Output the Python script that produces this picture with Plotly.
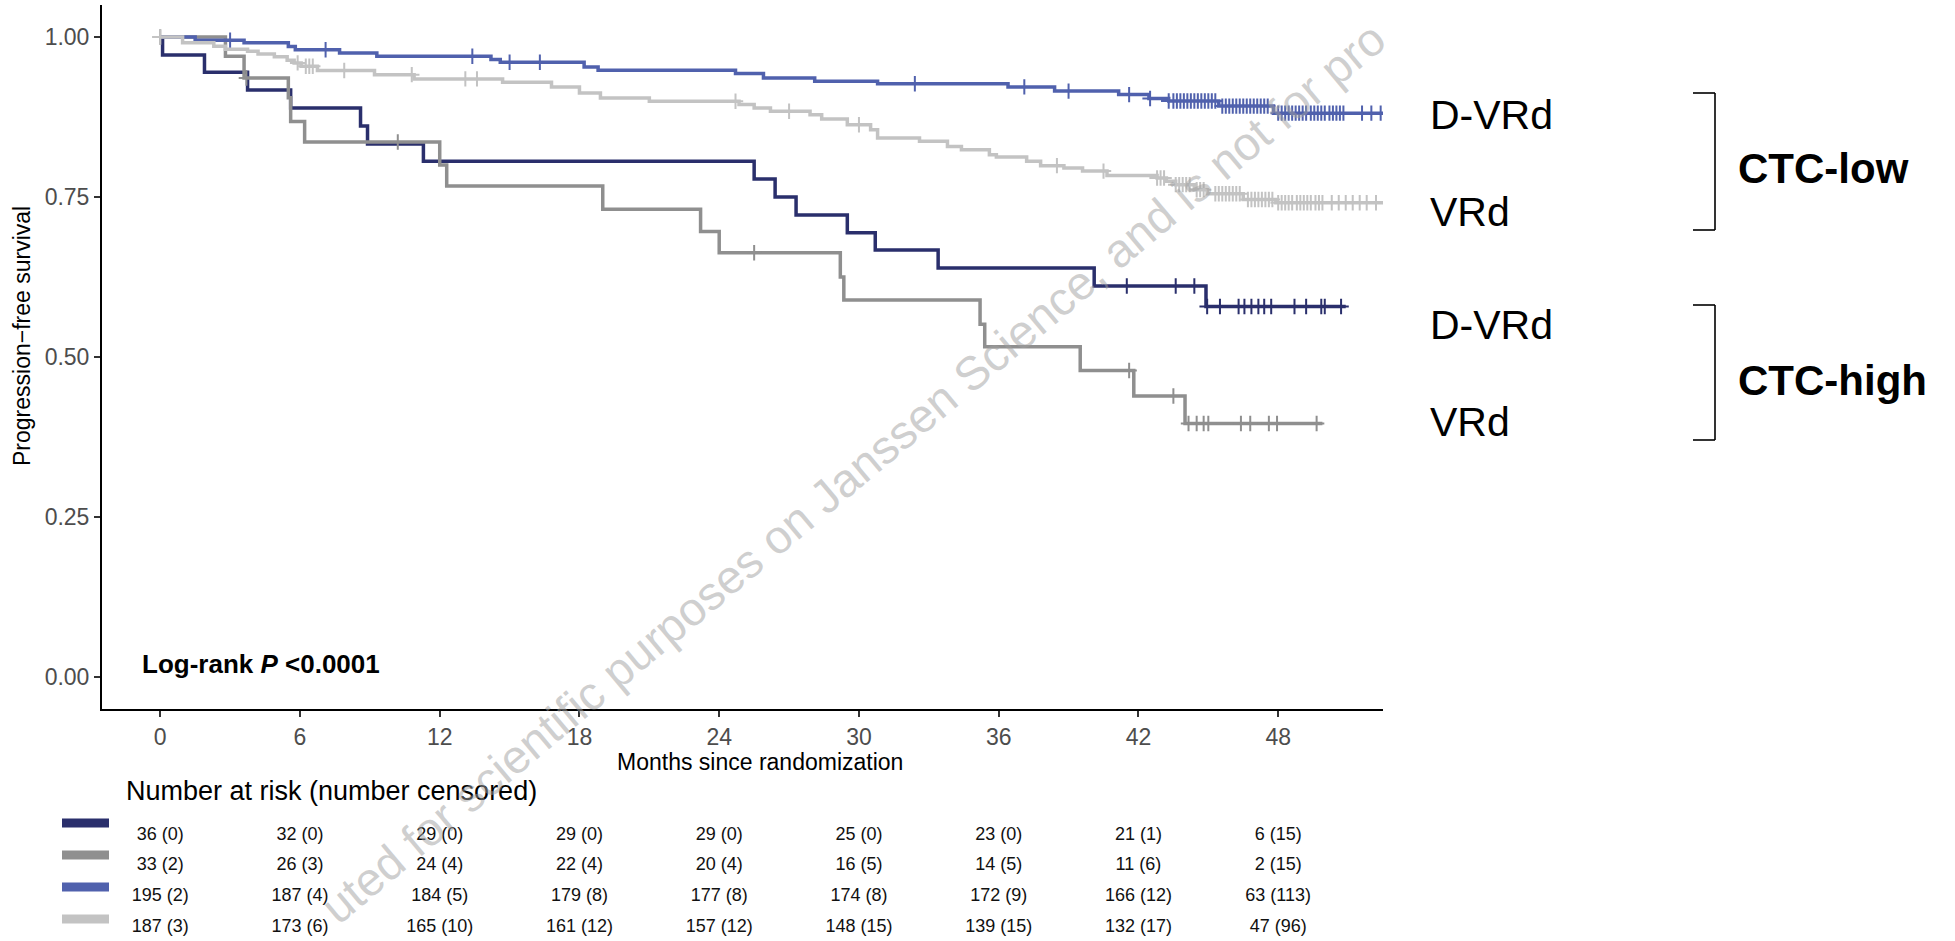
import plotly.graph_objects as go

# ---------------- data ----------------
month_ticks = [0, 6, 12, 18, 24, 30, 36, 42, 48]
surv_ticks = [0.0, 0.25, 0.5, 0.75, 1.0]
surv_ticklabels = ["0.00", "0.25", "0.50", "0.75", "1.00"]

# CTC-high, D-VRd
hi_dvrd_t = [0, 0.1, 1.9, 3.75, 5.6, 8.6, 8.9, 11.3, 25.5, 26.4, 27.3, 29.5, 30.7, 33.4, 40.1, 44.9]
hi_dvrd_s = [1.0, 0.972, 0.945, 0.917, 0.889, 0.861, 0.833, 0.806, 0.778, 0.750, 0.722, 0.694, 0.667, 0.639, 0.611, 0.579]
hi_dvrd_end = 50.9
hi_dvrd_cens = [41.5, 43.6, 44.4, 44.95, 45.5, 46.3, 46.55, 46.85, 47.15, 47.4, 47.7, 48.7, 49.2, 49.85, 50.0, 50.7]

# CTC-high, VRd
hi_vrd_t = [0, 2.8, 3.6, 5.5, 5.6, 6.2, 12.0, 12.3, 19.0, 23.2, 24.0, 29.2, 29.35, 35.2, 35.4, 39.5, 41.8, 44.0]
hi_vrd_s = [1.0, 0.970, 0.936, 0.905, 0.868, 0.836, 0.800, 0.767, 0.731, 0.696, 0.663, 0.625, 0.589, 0.551, 0.516, 0.479, 0.439, 0.396]
hi_vrd_end = 49.9
hi_vrd_cens = [0, 3.7, 10.2, 25.5, 41.6, 43.5, 44.15, 44.5, 44.8, 45.0, 46.4, 46.8, 47.6, 47.95, 49.65]

# CTC-low, D-VRd
lo_dvrd_t = [0, 1.5, 3.6, 5.5, 5.8, 7.7, 9.3, 14.2, 14.6, 18.2, 18.8, 24.7, 25.9, 28.1, 30.8, 36.4, 38.4,
             41.15, 42.45, 43.3, 45.45, 47.8]
lo_dvrd_s = [1.0, 0.995, 0.991, 0.985, 0.980, 0.975, 0.970, 0.965, 0.9605, 0.953, 0.948, 0.943, 0.936, 0.931,
             0.927, 0.922, 0.9155, 0.910, 0.904, 0.900, 0.892, 0.881]
lo_dvrd_end = 53.0
lo_dvrd_cens = [3.0, 7.1, 13.4, 15.0, 16.3, 32.4, 37.1, 39.0, 41.6, 42.5, 43.3, 43.5, 43.65, 43.8, 43.95, 44.1,
                44.25, 44.4, 44.55, 44.7, 44.85, 45.0, 45.15, 45.3, 45.6, 45.75, 45.9, 46.05, 46.2, 46.35, 46.5,
                46.65, 46.8, 46.95, 47.1, 47.25, 47.4, 47.55, 48.0, 48.15, 48.3, 48.45, 48.6, 48.75, 48.9, 49.05,
                49.2, 49.4, 49.55, 49.7, 49.85, 50.0, 50.2, 50.35, 50.5, 50.65, 50.8, 51.6, 52.0, 52.4]

# CTC-low, VRd
lo_vrd_t = [0, 0.96, 2.3, 2.8, 3.75, 4.2, 4.9, 5.45, 5.75, 6.05, 6.75, 9.2, 10.9, 14.7, 16.8, 18.0, 18.9, 21.0,
            24.85, 25.5, 26.2, 27.9, 28.4, 29.5, 30.5, 30.8, 32.6, 33.8, 34.4, 35.6, 35.9, 37.2, 37.8, 38.8,
            39.6, 40.65, 42.8, 43.2, 43.6, 44.4, 44.95, 46.5, 47.9]
lo_vrd_s = [1.0, 0.991, 0.9855, 0.981, 0.9777, 0.9735, 0.969, 0.9637, 0.9595, 0.9543, 0.9476, 0.9412, 0.9345,
            0.9293, 0.922, 0.9126, 0.9048, 0.8995, 0.8944, 0.889, 0.8839, 0.8787, 0.872, 0.863, 0.855, 0.8423,
            0.837, 0.829, 0.824, 0.816, 0.8126, 0.8057, 0.799, 0.7955, 0.7905, 0.7834, 0.7797, 0.7745, 0.7693,
            0.7615, 0.755, 0.746, 0.741]
lo_vrd_end = 53.0
lo_vrd_cens = [0, 5.9, 6.25, 6.4, 6.55, 7.9, 10.8, 13.1, 13.6, 24.7, 27.0, 30.0, 38.5, 40.5, 42.8, 42.95, 43.1,
               43.6, 43.75, 43.9, 44.05, 44.2, 44.5, 44.65, 44.8, 45.3, 45.45, 45.6, 45.75, 45.9, 46.05, 46.2,
               46.35, 46.7, 46.85, 47.0, 47.15, 47.3, 47.45, 47.6, 47.75, 48.0, 48.15, 48.3, 48.45, 48.6, 48.8,
               48.95, 49.1, 49.25, 49.4, 49.6, 49.75, 49.9, 50.3, 50.6, 50.9, 51.2, 51.5, 51.8, 52.2]

# number at risk (number censored) at month_ticks
risk_hi_dvrd = [36, 32, 29, 29, 29, 25, 23, 21, 6]
cens_hi_dvrd = [0, 0, 0, 0, 0, 0, 0, 1, 15]
risk_hi_vrd = [33, 26, 24, 22, 20, 16, 14, 11, 2]
cens_hi_vrd = [2, 3, 4, 4, 4, 5, 5, 6, 15]
risk_lo_dvrd = [195, 187, 184, 179, 177, 174, 172, 166, 63]
cens_lo_dvrd = [2, 4, 5, 8, 8, 8, 9, 12, 113]
risk_lo_vrd = [187, 173, 165, 161, 157, 148, 139, 132, 47]
cens_lo_vrd = [3, 6, 10, 12, 12, 15, 15, 17, 96]

group_labels = ["D-VRd", "VRd", "D-VRd", "VRd"]
group_names = ["CTC-low", "CTC-high"]

# ---------------- styling / geometry ----------------
W, H = 1955, 941
ML, MR, MT, MB = 102, 572, 5, 0
PW = W - ML - MR
PH = H - MT - MB          # paper height (whole figure below the top margin)
PLOT_BOTTOM = 709         # pixel row of the x axis line
TABLE_TOP = 712           # pixel row where the (hidden) table axis starts
XMIN, XMAX = -2.5, 52.5
YMIN, YMAX = -0.05, 1.05
FONT = "Liberation Sans, Arial, sans-serif"

C_HI_DVRD = "#2a2f6c"
C_HI_VRD = "#8f8f8f"
C_LO_DVRD = "#5061ad"
C_LO_VRD = "#c3c3c3"


def pxx(xp):
    return (xp - ML) / PW


def pyy(yp):
    return (H - MB - yp) / PH


def surv_at(ts, ss, c):
    val = ss[0]
    for t, s in zip(ts, ss):
        if t <= c:
            val = s
    return val


fig = go.Figure()

curves = [
    (hi_dvrd_t, hi_dvrd_s, hi_dvrd_end, hi_dvrd_cens, C_HI_DVRD),
    (hi_vrd_t, hi_vrd_s, hi_vrd_end, hi_vrd_cens, C_HI_VRD),
    (lo_dvrd_t, lo_dvrd_s, lo_dvrd_end, lo_dvrd_cens, C_LO_DVRD),
    (lo_vrd_t, lo_vrd_s, lo_vrd_end, lo_vrd_cens, C_LO_VRD),
]

for ts, ss, tend, cens, col in curves:
    fig.add_trace(go.Scatter(
        x=list(ts) + [tend], y=list(ss) + [ss[-1]],
        mode="lines", line=dict(color=col, width=3.5, shape="hv"),
        hoverinfo="skip", showlegend=False, cliponaxis=True))
    fig.add_trace(go.Scatter(
        x=cens, y=[surv_at(ts, ss, c) for c in cens],
        mode="markers",
        marker=dict(symbol="cross-thin", size=11, line=dict(color=col, width=2), color=col),
        hoverinfo="skip", showlegend=False, cliponaxis=True))

# risk table rows: text traces on a hidden axis pair below the survival plot
rows = [
    (risk_hi_dvrd, cens_hi_dvrd, C_HI_DVRD),
    (risk_hi_vrd, cens_hi_vrd, C_HI_VRD),
    (risk_lo_dvrd, cens_lo_dvrd, C_LO_DVRD),
    (risk_lo_vrd, cens_lo_vrd, C_LO_VRD),
]
row_y = [835, 865, 896, 927]
bar_y = [823, 855, 887, 919]
for (risk, cen, col), ry in zip(rows, row_y):
    fig.add_trace(go.Scatter(
        x=month_ticks, y=[ry] * len(month_ticks), xaxis="x2", yaxis="y2",
        mode="text", text=[f"{r} ({c})" for r, c in zip(risk, cen)],
        textposition="middle center",
        textfont=dict(family=FONT, size=18, color="#111111"),
        hoverinfo="skip", showlegend=False, cliponaxis=False))

annotations = []
shapes = []

# axis titles
annotations.append(dict(x=pxx(760), y=pyy(762), xref="paper", yref="paper",
                        text="Months since randomization", showarrow=False,
                        font=dict(family=FONT, size=23, color="#000000"),
                        xanchor="center", yanchor="middle"))
annotations.append(dict(x=pxx(22), y=pyy(336), xref="paper", yref="paper",
                        text="Progression\u2212free survival", showarrow=False, textangle=-90,
                        font=dict(family=FONT, size=23, color="#000000"),
                        xanchor="center", yanchor="middle"))

# log-rank
annotations.append(dict(x=pxx(140), y=pyy(664), xref="paper", yref="paper",
                        text="<b>Log-rank <i>P</i> &lt;0.0001</b>", showarrow=False,
                        font=dict(family=FONT, size=26, color="#000000"),
                        xanchor="left", yanchor="middle"))

# right-hand labels
label_y = [115, 212, 325, 422]
for lab, yv in zip(group_labels, label_y):
    annotations.append(dict(x=pxx(1428), y=pyy(yv), xref="paper", yref="paper", text=lab,
                            showarrow=False, font=dict(family=FONT, size=41, color="#000000"),
                            xanchor="left", yanchor="middle"))
for gname, yv in zip(group_names, [168, 380]):
    annotations.append(dict(x=pxx(1736), y=pyy(yv), xref="paper", yref="paper",
                            text="<b>" + gname + "</b>", showarrow=False,
                            font=dict(family=FONT, size=42, color="#000000"),
                            xanchor="left", yanchor="middle"))

# brackets
for (y0, y1) in [(93, 230), (305, 440)]:
    for (xa, ya, xb, yb) in [(1693, y0, 1715, y0), (1715, y0, 1715, y1), (1693, y1, 1715, y1)]:
        shapes.append(dict(type="line", xref="paper", yref="paper",
                           x0=pxx(xa), y0=pyy(ya), x1=pxx(xb), y1=pyy(yb),
                           line=dict(color="#000000", width=1.6)))

# risk table header and colour keys
annotations.append(dict(x=pxx(124), y=pyy(791), xref="paper", yref="paper",
                        text="Number at risk (number censored)", showarrow=False,
                        font=dict(family=FONT, size=27, color="#000000"),
                        xanchor="left", yanchor="middle"))
for (risk, cen, col), by in zip(rows, bar_y):
    shapes.append(dict(type="rect", xref="paper", yref="paper",
                       x0=pxx(62), x1=pxx(109), y0=pyy(by - 4.5), y1=pyy(by + 4.5),
                       fillcolor=col, line=dict(width=0)))

# watermark
annotations.append(dict(x=pxx(853), y=pyy(472), xref="paper", yref="paper",
                        text="uted for scientific purposes on Janssen Science, and is not for pro",
                        showarrow=False, textangle=-40,
                        font=dict(family=FONT, size=47, color="rgba(160,160,160,0.5)"),
                        xanchor="center", yanchor="middle"))

axis_common = dict(showgrid=False, zeroline=False, showline=True, linecolor="#000000", linewidth=2,
                   ticks="outside", ticklen=6, tickwidth=2, tickcolor="#333333",
                   tickfont=dict(family=FONT, size=23, color="#4d4d4d"))

fig.update_layout(
    width=W, height=H,
    margin=dict(l=ML, r=MR, t=MT, b=MB, pad=0),
    paper_bgcolor="#ffffff", plot_bgcolor="#ffffff",
    showlegend=False,
    xaxis=dict(range=[XMIN, XMAX], tickmode="array", tickvals=month_ticks,
               ticktext=[str(m) for m in month_ticks], anchor="y", **axis_common),
    yaxis=dict(range=[YMIN, YMAX], tickmode="array", tickvals=surv_ticks,
               ticktext=surv_ticklabels, domain=[pyy(PLOT_BOTTOM), 1.0], **axis_common),
    xaxis2=dict(range=[XMIN, XMAX], anchor="y2", visible=False, showgrid=False, zeroline=False),
    yaxis2=dict(range=[H, TABLE_TOP], domain=[0.0, pyy(TABLE_TOP)], anchor="x2", visible=False,
                showgrid=False, zeroline=False),
    annotations=annotations,
    shapes=shapes,
)

fig.write_html("out.html")
